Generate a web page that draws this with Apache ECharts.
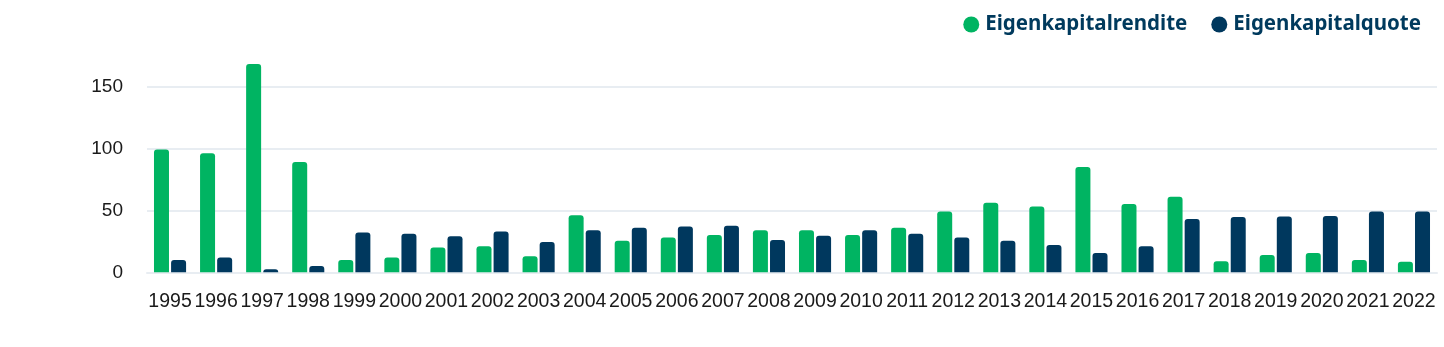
<!DOCTYPE html>
<html>
<head>
<meta charset="utf-8">
<style>
  html, body { margin: 0; padding: 0; background: #ffffff; }
  #chart { width: 1444px; height: 347px; }
</style>
<script src="https://cdn.jsdelivr.net/npm/echarts@6/dist/echarts.min.js"></script>
</head>
<body>
<div id="chart"></div>
<script>
// Jahre
const years = ['1995','1996','1997','1998','1999','2000','2001','2002','2003','2004',
  '2005','2006','2007','2008','2009','2010','2011','2012','2013','2014',
  '2015','2016','2017','2018','2019','2020','2021','2022'];

// Eigenkapitalrendite (%)
const eigenkapitalrendite = [99, 96, 168, 89, 10, 12, 20, 21, 13, 46,
  25.5, 28, 30, 34, 34, 30, 36, 49, 56, 53,
  85, 55, 61, 9, 14, 15.5, 10, 8.5];

// Eigenkapitalquote (%)
const eigenkapitalquote = [10, 12, 2.5, 5, 32, 31, 29, 33, 24.5, 34,
  36, 37, 37.5, 26, 29.5, 34, 31, 28, 25.5, 22,
  15.5, 21, 43, 44.5, 45, 45.5, 49, 49];

// y-axis ticks
const yTicks = [0, 50, 100, 150];

const GREEN = '#00b462';
const NAVY = '#00385e';
const GRID = '#e8edf2';

const chart = echarts.init(document.getElementById('chart'), null, { renderer: 'canvas' });

// headroom above the highest tick; lines/labels beyond the tick list stay hidden
const yMax = 200;
const gridColors = [];
for (let v = 0; v <= yMax; v += 50) {
  gridColors.push(yTicks.includes(v) ? GRID : 'rgba(0,0,0,0)');
}

chart.setOption({
  animation: false,
  legend: {
    top: 9,
    right: 18,
    itemGap: 24,
    itemWidth: 16,
    itemHeight: 16,
    icon: 'circle',
    textStyle: {
      fontFamily: 'Noto Sans',
      fontWeight: 'bold',
      fontSize: 20.5,
      color: '#003a5d',
      padding: [0, 0, 0, 1]
    },
    data: ['Eigenkapitalrendite', 'Eigenkapitalquote']
  },
  grid: {
    left: 147,
    right: 7,
    top: 24.3,
    bottom: 74.7,
    containLabel: false
  },
  xAxis: {
    type: 'category',
    data: years,
    axisTick: { show: false },
    axisLine: { show: true, lineStyle: { color: GRID, width: 2 } },
    axisLabel: {
      margin: 19,
      fontFamily: 'Liberation Sans',
      fontSize: 19.5,
      color: '#1a1a1a',
      interval: 0
    }
  },
  yAxis: {
    type: 'value',
    min: 0,
    max: yMax,
    interval: 50,
    axisLine: { show: false },
    axisTick: { show: false },
    axisLabel: {
      margin: 24,
      fontFamily: 'Liberation Sans',
      fontSize: 19,
      color: '#1a1a1a',
      formatter: v => (yTicks.includes(v) ? String(v) : '')
    },
    splitLine: { show: true, lineStyle: { color: gridColors, width: 2 } }
  },
  series: [
    {
      name: 'Eigenkapitalrendite',
      type: 'bar',
      data: eigenkapitalrendite,
      barWidth: 15,
      barGap: '14%',
      itemStyle: { color: GREEN, borderRadius: [3, 3, 0, 0] }
    },
    {
      name: 'Eigenkapitalquote',
      type: 'bar',
      data: eigenkapitalquote,
      barWidth: 15,
      barGap: '14%',
      itemStyle: { color: NAVY, borderRadius: [3, 3, 0, 0] }
    }
  ]
});
</script>
</body>
</html>
